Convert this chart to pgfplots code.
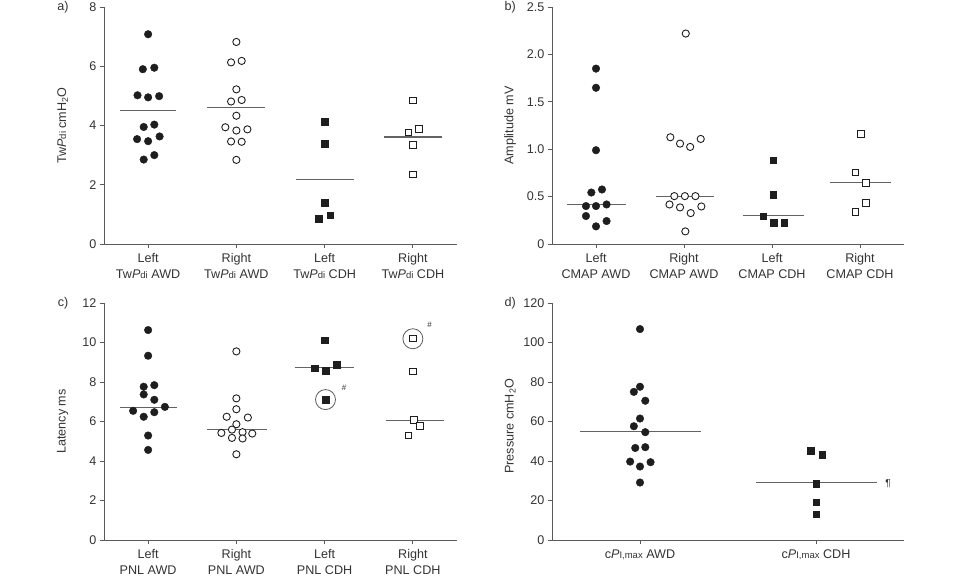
\documentclass[border=0pt]{standalone}
\usepackage{fontspec}
\setmainfont{Liberation Sans}
\usepackage{pgfplots}
\pgfplotsset{compat=1.18}
\definecolor{ink}{HTML}{1E1E1E}
\definecolor{axisgray}{HTML}{5A5A5A}
\definecolor{txt}{HTML}{333333}
\definecolor{meangray}{HTML}{636363}

\newcommand{\twpdi}{Tw\textit{P}{\fontsize{9.5}{10}\selectfont di}}
\newcommand{\cpi}{c\textit{P}{\fontsize{9.5}{10}\selectfont I,max}}

\pgfplotsset{
  dotpanel/.style={
    scale only axis,
    axis x line=bottom, axis y line=left,
    axis line style={-, draw=axisgray, line width=0.9pt},
    tick style={draw=axisgray, line width=0.9pt},
    tick align=outside, major tick length=4pt,
    xtick pos=bottom, ytick pos=left,
    font=\fontsize{12.6}{16}\selectfont, text=txt,
    /pgf/number format/assume math mode=true,
    xticklabel style={align=center, text=txt, yshift=-2pt},
    yticklabel style={text=txt},
    ylabel style={at={(axis description cs:-0.117,0.5)}, anchor=center, text=txt},
    clip=false,
  },
  filledc/.style={only marks, mark=*, mark size=3.8pt, mark options={fill=ink, draw=ink}},
  openc/.style={only marks, mark=*, mark size=3.6pt, mark options={fill=white, draw=ink, line width=0.9pt}},
  filleds/.style={only marks, mark=square*, mark size=3.3pt, mark options={fill=ink, draw=ink}},
  opens/.style={only marks, mark=square*, mark size=3.2pt, mark options={fill=white, draw=ink, line width=0.9pt}},
  meanline/.style={no marks, draw=meangray, line width=1.1pt},
}

\begin{document}
\begin{tikzpicture}[x=1pt,y=1pt]
\path[use as bounding box] (0,0) rectangle (960,583);

% panel a
\begin{axis}[dotpanel, at={(104pt,339pt)}, anchor=south west,
  width=353pt, height=237pt, xmin=0.5, xmax=4.5, ymin=0, ymax=8,
  xtick={1,2,3,4}, ytick={0,2,4,6,8},
  xticklabels={{Left\\\twpdi{} AWD},{Right\\\twpdi{} AWD},{Left\\\twpdi{} CDH},{Right\\\twpdi{} CDH}},
  ylabel={\twpdi{} cmH\textsubscript{2}O}]
\addplot[meanline] coordinates {(0.68,4.51)(1.32,4.51)};
\addplot[meanline] coordinates {(1.67,4.60)(2.33,4.60)};
\addplot[meanline] coordinates {(2.67,2.17)(3.33,2.17)};
\addplot[meanline] coordinates {(3.67,3.61)(4.33,3.61)};
\addplot[filledc] coordinates {(1.0,7.08)(0.94,5.90)(1.07,5.95)(0.88,5.02)(1.0,4.95)(1.125,4.99)(0.95,3.95)(1.07,4.03)(0.875,3.54)(1.0,3.47)(1.13,3.63)(0.95,2.85)(1.07,3.00)};
\addplot[openc] coordinates {(2.0,6.82)(1.94,6.13)(2.06,6.18)(2.0,5.22)(1.94,4.81)(2.06,4.86)(2.0,4.33)(1.875,3.94)(2.0,3.83)(2.125,3.87)(1.94,3.46)(2.06,3.45)(2.0,2.84)};
\addplot[filleds] coordinates {(3.0,4.12)(3.0,3.39)(3.0,1.39)(2.93,0.85)(3.065,0.97)};
\addplot[opens] coordinates {(4.0,4.84)(3.95,3.76)(4.07,3.89)(4.0,3.34)(4.0,2.35)};
\node[text=txt] at (rel axis cs:-0.116,1) {a)};
\end{axis}

% panel b
\begin{axis}[dotpanel, at={(552pt,339pt)}, anchor=south west,
  width=352pt, height=237pt, xmin=0.5, xmax=4.5, ymin=0, ymax=2.5,
  xtick={1,2,3,4}, ytick={0,0.5,1,1.5,2,2.5},
  yticklabels={0,0.5,1.0,1.5,2.0,2.5},
  xticklabels={{Left\\CMAP AWD},{Right\\CMAP AWD},{Left\\CMAP CDH},{Right\\CMAP CDH}},
  ylabel style={at={(axis description cs:-0.119,0.5)}},
  ylabel={Amplitude mV}]
\addplot[meanline] coordinates {(0.67,0.417)(1.34,0.417)};
\addplot[meanline] coordinates {(1.68,0.505)(2.345,0.505)};
\addplot[meanline] coordinates {(2.67,0.305)(3.36,0.305)};
\addplot[meanline] coordinates {(3.66,0.649)(4.35,0.649)};
\addplot[filledc] coordinates {(1.0,1.85)(1.0,1.648)(1.0,0.989)(0.947,0.543)(1.068,0.575)(0.886,0.40)(1.0,0.40)(1.12,0.417)(0.886,0.295)(1.12,0.242)(1.0,0.186)};
\addplot[openc] coordinates {(2.02,2.22)(1.845,1.126)(1.955,1.059)(2.07,1.024)(2.19,1.108)(1.89,0.505)(2.01,0.505)(2.13,0.505)(1.835,0.417)(1.955,0.386)(2.076,0.326)(2.197,0.396)(2.015,0.133)};
\addplot[filleds] coordinates {(3.015,0.884)(3.015,0.522)(2.9,0.295)(3.02,0.224)(3.14,0.224)};
\addplot[opens] coordinates {(4.01,1.16)(3.95,0.757)(4.068,0.645)(4.068,0.431)(3.95,0.337)};
\node[text=txt] at (rel axis cs:-0.119,1) {b)};
\end{axis}

% panel c
\begin{axis}[dotpanel, at={(104pt,43pt)}, anchor=south west,
  width=353pt, height=237pt, xmin=0.5, xmax=4.5, ymin=0, ymax=12,
  xtick={1,2,3,4}, ytick={0,2,4,6,8,10,12},
  xticklabels={{Left\\PNL AWD},{Right\\PNL AWD},{Left\\PNL CDH},{Right\\PNL CDH}},
  ylabel={Latency ms}]
\addplot[meanline] coordinates {(0.68,6.73)(1.33,6.73)};
\addplot[meanline] coordinates {(1.67,5.59)(2.35,5.59)};
\addplot[meanline] coordinates {(2.66,8.72)(3.33,8.72)};
\addplot[meanline] coordinates {(3.69,6.05)(4.35,6.05)};
\addplot[filledc] coordinates {(1.0,10.63)(1.0,9.33)(0.95,7.76)(1.07,7.84)(0.95,7.37)(1.07,7.10)(0.83,6.54)(0.95,6.24)(1.07,6.47)(1.19,6.74)(1.0,5.29)(1.0,4.56)};
\addplot[openc] coordinates {(2.0,9.55)(2.0,7.17)(2.0,6.62)(1.89,6.24)(2.13,6.20)(2.0,5.86)(1.83,5.42)(1.95,5.59)(2.07,5.46)(2.18,5.39)(1.95,5.17)(2.07,5.14)(2.0,4.34)};
\addplot[filleds] coordinates {(3.0,10.12)(2.89,8.69)(3.01,8.57)(3.14,8.89)(3.01,7.11)};
\addplot[opens] coordinates {(4.0,10.19)(4.0,8.53)(4.01,6.08)(4.08,5.78)(3.95,5.29)};
\addplot[only marks, mark=o, mark size=10pt, mark options={draw=axisgray, line width=0.8pt}] coordinates {(3.01,7.11)(4.0,10.19)};
\node[text=txt, font=\fontsize{8}{9}\selectfont] at (axis cs:3.22,7.69) {\#};
\node[text=txt, font=\fontsize{8}{9}\selectfont] at (axis cs:4.19,10.9) {\#};
\node[text=txt] at (rel axis cs:-0.116,1) {c)};
\end{axis}

% panel d
\begin{axis}[dotpanel, at={(552pt,43pt)}, anchor=south west,
  width=352pt, height=237pt, xmin=0.5, xmax=2.5, ymin=0, ymax=120,
  xtick={1,2}, ytick={0,20,40,60,80,100,120},
  xticklabels={{\cpi{} AWD},{\cpi{} CDH}},
  ylabel style={at={(axis description cs:-0.119,0.48)}},
  ylabel={Pressure cmH\textsubscript{2}O}]
\addplot[meanline] coordinates {(0.66,54.8)(1.345,54.8)};
\addplot[meanline] coordinates {(1.66,28.9)(2.345,28.9)};
\addplot[filledc] coordinates {(1.0,106.8)(0.965,75.0)(1.0,77.6)(1.03,70.5)(1.0,61.5)(0.965,57.6)(1.03,54.6)(0.973,46.6)(1.03,47.0)(0.944,39.7)(1.0,37.2)(1.06,39.4)(1.0,29.1)};
\addplot[filleds] coordinates {(1.97,45.3)(2.036,43.3)(2.0,28.4)(2.0,19.1)(2.0,13.0)};
\node[text=txt, font=\fontsize{10}{11}\selectfont] at (axis cs:2.41,28.4) {\P};
\node[text=txt] at (rel axis cs:-0.119,1) {d)};
\end{axis}
\end{tikzpicture}
\end{document}
